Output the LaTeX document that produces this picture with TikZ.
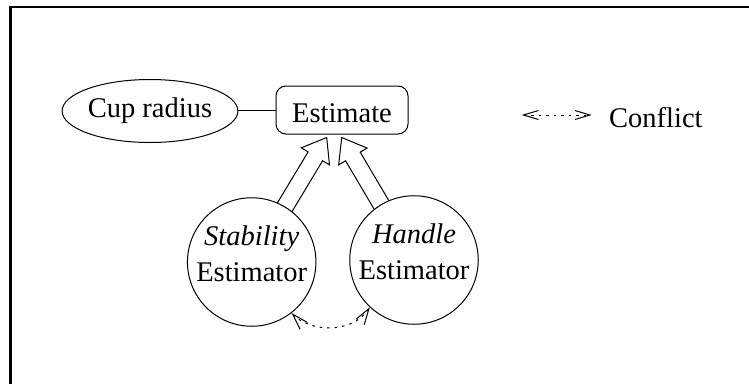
\documentclass[tikz,border=0pt]{standalone}
\usepackage{fontspec}
\setmainfont{Liberation Serif}
\usetikzlibrary{calc,shapes.geometric,arrows.meta,backgrounds}

% hollow "double" arrow from #1 to tip #2 (shaft open at #1)
\newcommand\holarrow[2]{%
  \path ($(#2)!22pt!(#1)$) coordinate (hd);
  \draw[hollow] ($(#1)!8.5pt!90:(#2)$) -- ($(hd)!8.5pt!90:(#2)$)
    -- ($(hd)!16.5pt!90:(#2)$) -- (#2) -- ($(hd)!16.5pt!-90:(#2)$)
    -- ($(hd)!8.5pt!-90:(#2)$) -- ($(#1)!8.5pt!-90:(#2)$);
}

\tikzset{
  base/.style={line width=1pt},
  txt/.style={inner sep=0pt, align=center},
  estim/.style={base, draw, circle, fill=white, minimum size=128.5pt, inner sep=0pt},
  valuebox/.style={base, draw, rectangle, rounded corners=10pt, minimum width=132pt,
    minimum height=48pt, inner sep=0pt, text height=24.5pt, text depth=0pt},
  paramnode/.style={base, draw, ellipse, minimum width=168pt, minimum height=63pt, inner sep=0pt},
  hollow/.style={base, line join=miter},
  conflict/.style={base, dash pattern=on 2.5pt off 5pt,
    {Straight Barb[length=16pt,width=10pt]}-{Straight Barb[length=16pt,width=10pt]}},
  legendarrow/.style={base, dash pattern=on 2.5pt off 5pt,
    {Straight Barb[length=15pt,width=9pt]}-{Straight Barb[length=15pt,width=9pt]}},
}

\begin{document}
\begin{tikzpicture}[x=1pt, y=-1pt, font=\fontsize{28.5}{36}\selectfont]
\useasboundingbox (0,0) rectangle (749,383);

% frame
\draw[line width=2.7pt, line join=miter] (10.7,390) -- (10.7,7) -- (760,7);

% nodes
\node[paramnode] (cup) at (150,111) {Cup radius};
\node[valuebox] (est) at (342,110) {Estimate};
\node[estim] (stab) at (251.7,262) {};
\node[estim] (hand) at (414,260) {};
\node[txt] (stabtxt) at ($(stab.center)+(0,-8.7)$) {\textit{Stability}\\Estimator};
\node[txt] (handtxt) at ($(hand.center)+(0,-8)$) {\textit{Handle}\\Estimator};

% link between parameter and estimate
\draw[base] (est.west) -- (est.west -| cup.east);

% hollow arrows from the estimators into the estimate
\coordinate (t1) at ($(est.south)+(-15.3,3)$);
\coordinate (t2) at ($(est.south)+(-0.3,3)$);
\begin{scope}[on background layer]
  \holarrow{stab.center}{t1}
  \holarrow{hand.center}{t2}
\end{scope}

% conflict between the two estimators
\draw[conflict] (stab.-52) .. controls +(18,19) and +(-18,27) .. (hand.-133);

% legend
\coordinate (la) at (521.7,115);
\coordinate (lb) at (591.7,115);
\draw[legendarrow] (la) -- (lb);
\node[txt, anchor=base west] (lconf) at (609,127) {Conflict};
\end{tikzpicture}
\end{document}
